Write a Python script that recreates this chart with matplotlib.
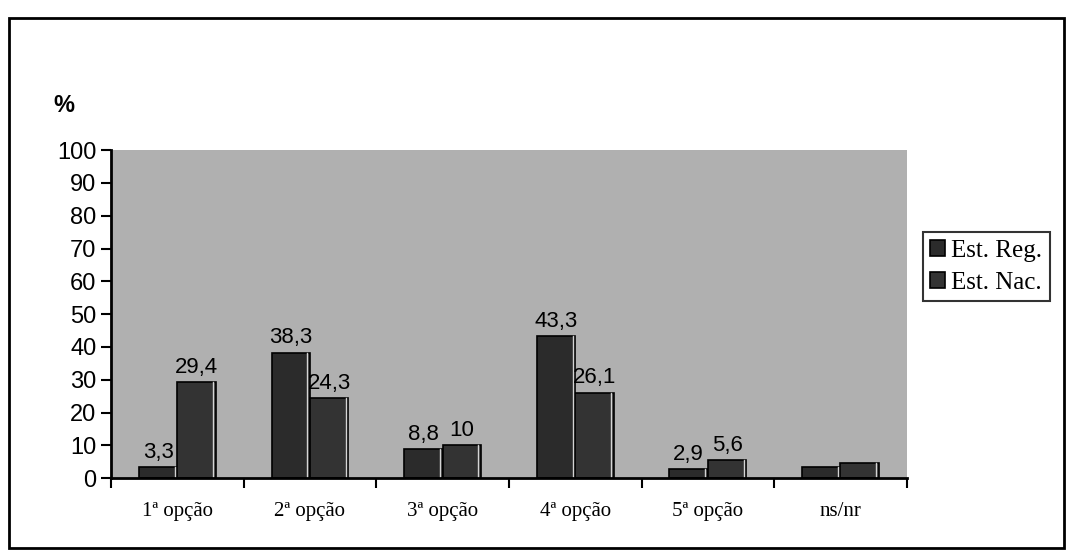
import matplotlib
matplotlib.use("Agg")
import matplotlib.pyplot as plt
import numpy as np
from matplotlib.patches import Rectangle

categories = ["1ª opção", "2ª opção", "3ª opção", "4ª opção", "5ª opção", "ns/nr"]
est_reg = [3.3, 38.3, 8.8, 43.3, 2.9, 3.4]
est_nac = [29.4, 24.3, 10, 26.1, 5.6, 4.6]
# ns/nr has no printed value
show_label = [True, True, True, True, True, False]

fig = plt.figure(figsize=(10.68, 5.58), dpi=100)
ax = fig.add_axes([0.104, 0.143, 0.745, 0.588])
ax.set_facecolor("#b0b0b0")

x = np.arange(len(categories))
w = 0.29
b1 = ax.bar(x - w / 2, est_reg, w, color="#2b2b2b", edgecolor="black",
            linewidth=1.2, label="Est. Reg.")
b2 = ax.bar(x + w / 2, est_nac, w, color="#333333", edgecolor="black",
            linewidth=1.2, label="Est. Nac.")

# light edge on the right side of each bar
for bars in (b1, b2):
    for r in bars:
        ax.plot([r.get_x() + r.get_width() * 0.93] * 2, [0, r.get_height()],
                color="white", lw=1.0, alpha=0.8)

for bars, vals in ((b1, est_reg), (b2, est_nac)):
    for r, v, s in zip(bars, vals, show_label):
        if not s:
            continue
        ax.annotate(f"{v:g}".replace(".", ","),
                    (r.get_x() + r.get_width() / 2, v),
                    xytext=(0, 3), textcoords="offset points",
                    ha="center", va="bottom", fontsize=16,
                    family="Liberation Sans")

ax.set_xlim(-0.5, len(categories) - 0.5)
ax.set_ylim(0, 100)
ax.set_yticks(range(0, 101, 10))
ax.tick_params(axis="y", labelsize=17, length=7, width=1.5, direction="out")
for t in ax.get_yticklabels():
    t.set_family("Liberation Sans")

ax.set_xticks(x)
ax.set_xticklabels(categories, family="Liberation Serif", fontsize=15)
ax.set_xticks(np.arange(-0.5, len(categories)), minor=True)
ax.tick_params(axis="x", which="major", length=0, pad=17)
ax.tick_params(axis="x", which="minor", length=7, width=1.5, direction="out")

for s in ("top", "right"):
    ax.spines[s].set_visible(False)
for s in ("left", "bottom"):
    ax.spines[s].set_linewidth(2)

fig.text(0.05, 0.80, "%", fontsize=17, fontweight="bold",
         family="Liberation Sans")

leg = ax.legend(loc="upper left", bbox_to_anchor=(1.02, 0.75),
                prop={"family": "Liberation Serif", "size": 18},
                frameon=True, fancybox=False, edgecolor="black",
                handlelength=0.6, handleheight=0.6, handletextpad=0.25,
                borderpad=0.3, labelspacing=0.4, borderaxespad=0)
leg.get_frame().set_linewidth(1.5)

fig.patches.append(Rectangle((0.008, 0.018), 0.988, 0.95,
                             transform=fig.transFigure, fill=False,
                             edgecolor="black", linewidth=2))

fig.savefig("out.png", dpi=100)
